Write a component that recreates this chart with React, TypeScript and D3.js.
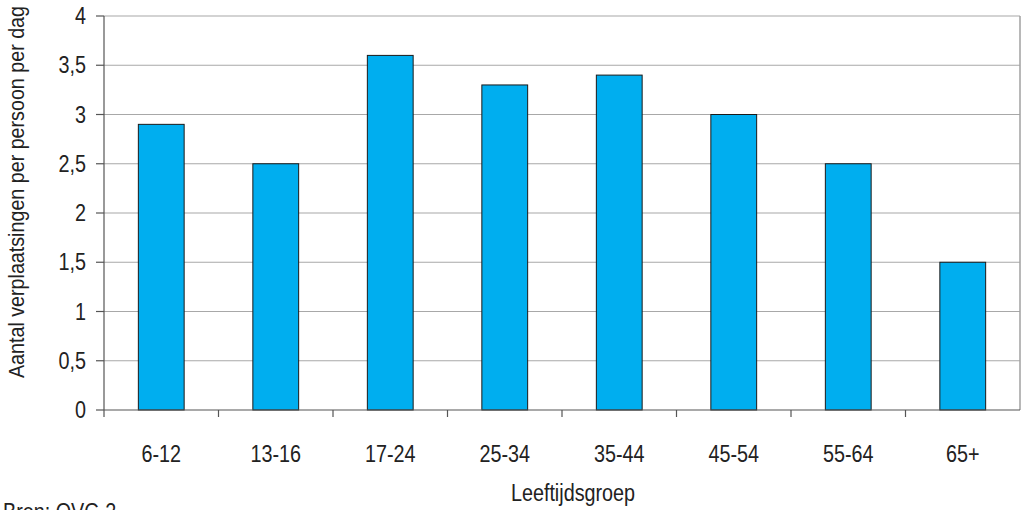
import React from "react";
import * as d3 from "d3";

const categories = ["6-12", "13-16", "17-24", "25-34", "35-44", "45-54", "55-64", "65+"];
const values = [2.9, 2.5, 3.6, 3.3, 3.4, 3.0, 2.5, 1.5];
const yTicks = [0, 0.5, 1, 1.5, 2, 2.5, 3, 3.5, 4];
const yTitle = "Aantal verplaatsingen per persoon per dag";
const xTitle = "Leeftijdsgroep";
const source = "Bron: OVG 2";

const W = 1027, H = 510;
const left = 104, right = 1020, top = 16, bottom = 410;
const FONT = "'Liberation Sans', Arial, sans-serif";
const SX = 0.86;

function T({ x, y, rot = 0, anchor = "start", size = 23, children }: any) {
  return (
    <text transform={`translate(${x},${y}) rotate(${rot}) scale(${SX},1)`} textAnchor={anchor}
      fontFamily={FONT} fontSize={size} fill="#222">{children}</text>
  );
}

export default function App() {
  const x = d3.scaleBand<string>().domain(categories).range([left, right]).paddingInner(0).paddingOuter(0);
  const y = d3.scaleLinear().domain([0, 4]).range([bottom, top]);
  const bw = x.bandwidth() * 0.4;
  const fmt = (v: number) => String(v).replace(".", ",");
  return (
    <svg width={W} height={H} style={{ position: "absolute", left: 0, top: 0, background: "#fff" }}>
      {yTicks.filter((t) => t > 0).map((t) => (
        <line key={"g" + t} x1={left} x2={right} y1={y(t)} y2={y(t)} stroke="#a8a8a8" strokeWidth={1.2} />
      ))}
      <line x1={right} x2={right} y1={top} y2={bottom} stroke="#a0a0a0" strokeWidth={1.5} />
      {categories.map((c, i) => (
        <rect key={c} x={x(c)! + (x.bandwidth() - bw) / 2} y={y(values[i])} width={bw} height={bottom - y(values[i])}
          fill="#00aeef" stroke="#1a1a1a" strokeWidth={1} />
      ))}
      <line x1={left} x2={left} y1={top} y2={bottom} stroke="#555" strokeWidth={1.2} />
      <line x1={left} x2={right} y1={bottom} y2={bottom} stroke="#555" strokeWidth={1.2} />
      {yTicks.map((t) => (
        <g key={"t" + t}>
          <line x1={96} x2={left} y1={y(t)} y2={y(t)} stroke="#555" strokeWidth={1.2} />
          <T x={86} y={y(t) + 8} anchor="end">{fmt(t)}</T>
        </g>
      ))}
      {categories.map((c, i) => (
        <line key={"xt" + c} x1={left + x.bandwidth() * i} x2={left + x.bandwidth() * i} y1={bottom} y2={bottom + 7} stroke="#555" strokeWidth={1.2} />
      ))}
      {categories.map((c) => (
        <T key={"xl" + c} x={x(c)! + x.bandwidth() / 2} y={462} anchor="middle">{c}</T>
      ))}
      <T x={24} y={192} rot={-90} anchor="middle" size={22.9}>{yTitle}</T>
      <T x={573} y={501} anchor="middle">{xTitle}</T>
      <T x={3} y={520}>{source}</T>
    </svg>
  );
}
